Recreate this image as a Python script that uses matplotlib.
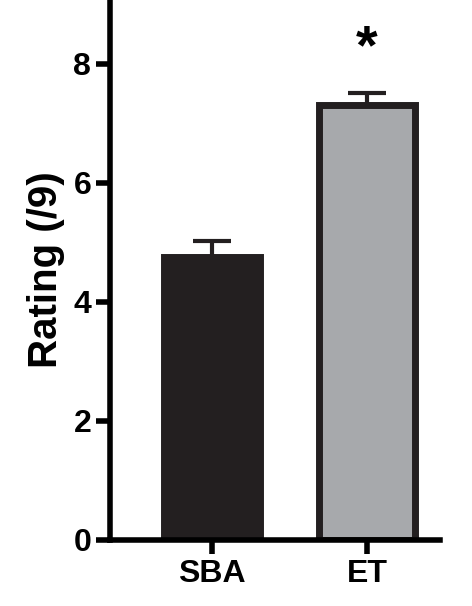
import matplotlib
matplotlib.use("Agg")
import matplotlib.pyplot as plt
plt.rcParams['font.family'] = ['Liberation Sans', 'DejaVu Sans']

categories = ["SBA", "ET"]
means = [4.75, 7.30]
errors = [0.28, 0.21]
colors = ["#231f20", "#a7a9ac"]

fig = plt.figure(figsize=(4.72, 6.06), dpi=100)
ax = fig.add_axes([0.233, 0.109, 0.699, 0.891])
x = [0, 1]
for xi, m, e, c in zip(x, means, errors, colors):
    ax.errorbar(xi, m, yerr=[[0], [e]], fmt='none', ecolor='#231f20', elinewidth=3, capsize=14, capthick=3, zorder=1)
    ax.bar(xi, m, width=0.62, color=c, edgecolor='#231f20', linewidth=5, zorder=2)
ax.text(1, means[1] + errors[1] + 0.3, "*", ha='center', va='bottom', fontsize=40, fontweight='bold')
ax.set_xlim(-0.658, 1.47)
ax.set_ylim(0, 9.07)
ax.set_yticks([0, 2, 4, 6, 8])
ax.set_xticks(x)
ax.set_xticklabels(categories)
for s in ['top', 'right']:
    ax.spines[s].set_visible(False)
for s in ['left', 'bottom']:
    ax.spines[s].set_linewidth(4)
ax.tick_params(width=4, length=10, labelsize=23)
for lab in ax.get_xticklabels() + ax.get_yticklabels():
    lab.set_fontweight('bold')
ax.set_ylabel("Rating (/9)", fontsize=29, fontweight='bold', labelpad=6)
fig.savefig("out.png", dpi=100)
